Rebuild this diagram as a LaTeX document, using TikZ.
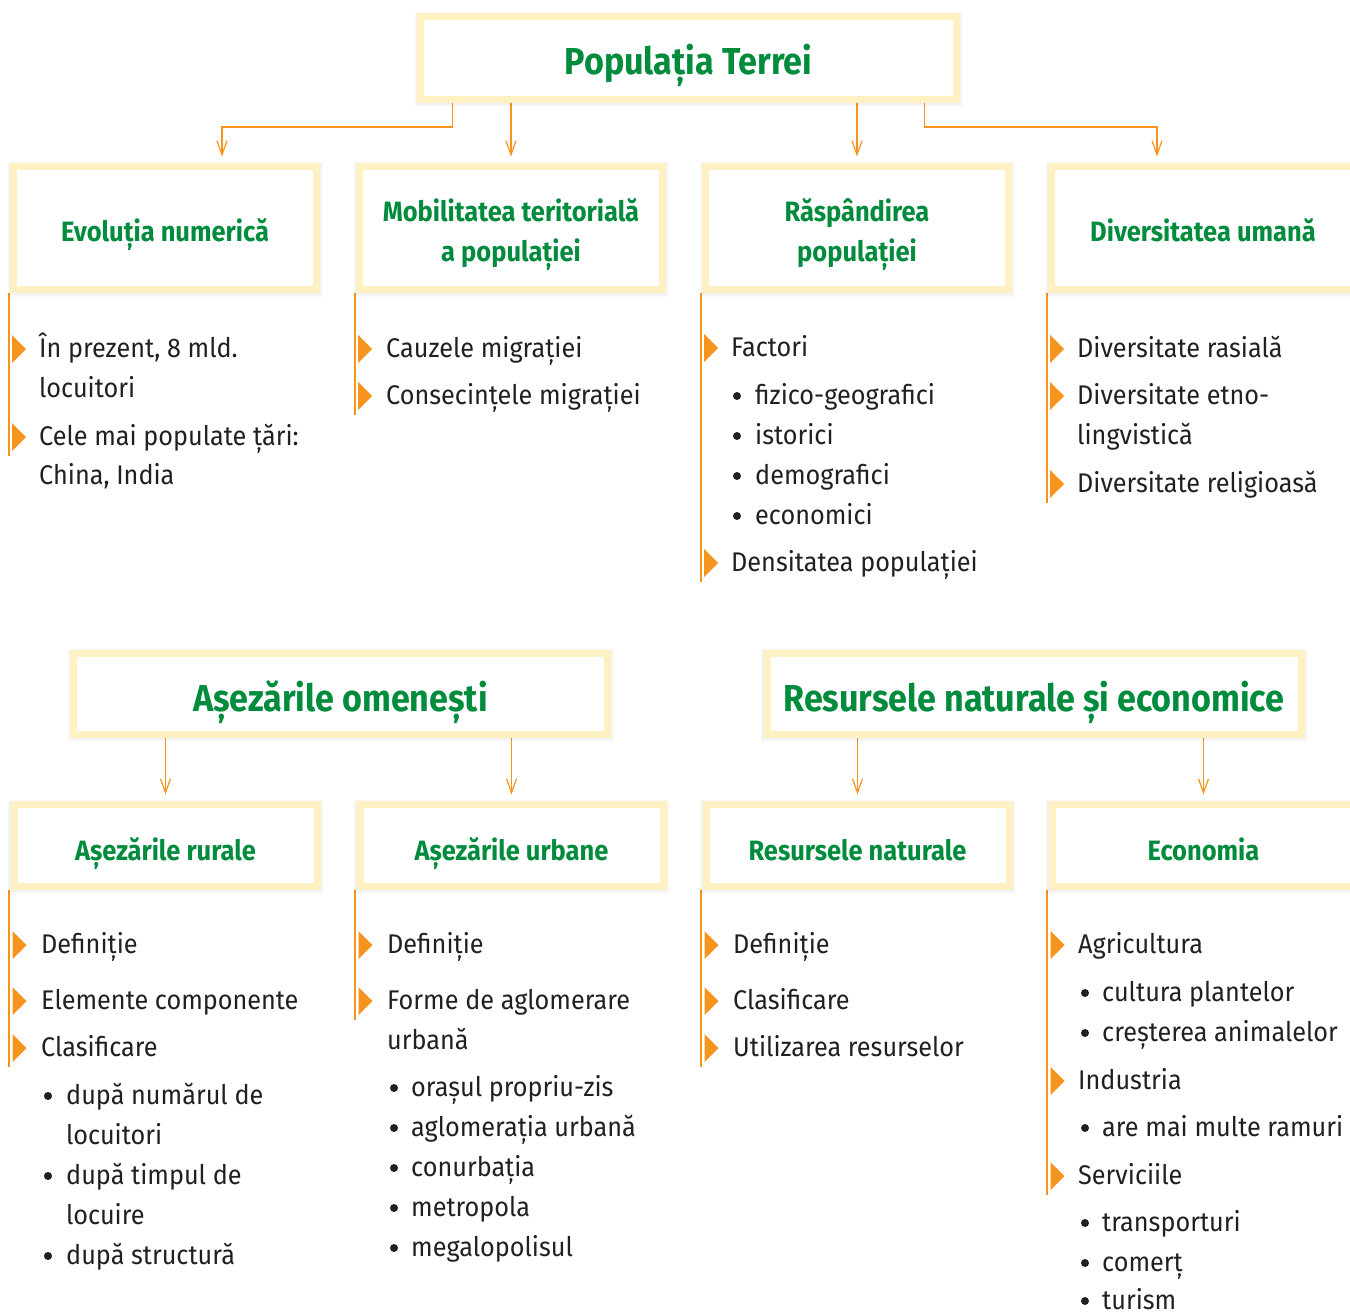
\documentclass[tikz,border=0pt]{standalone}
\usepackage{fontspec}
\setmainfont{Fira Sans}[FakeStretch=0.935]
\newfontfamily\hfont{Fira Sans}[FakeStretch=0.91]
\usetikzlibrary{arrows.meta,shadows}
\definecolor{grn}{HTML}{008C3C}
\definecolor{ylw}{HTML}{FFF1C2}
\definecolor{orng}{HTML}{F7941D}
\definecolor{txt}{HTML}{231F20}
\pgfdeclarelayer{bg}
\pgfsetlayers{bg,main}
\tikzset{
 boxnode/.style={draw=ylw, line width=7pt, fill=white, inner sep=0pt,
   minimum width=303pt, minimum height=123pt,
   general shadow={draw=black, line width=12pt, opacity=0.025, shadow yshift=-1.5pt},
   general shadow={draw=black, line width=9.5pt, opacity=0.03, shadow yshift=-1pt}},
 lowbox/.style={boxnode, minimum height=82pt},
 bigbox/.style={boxnode, minimum width=534pt, minimum height=81pt},
 ttl/.style={anchor=base, inner sep=0pt, text=grn, font=\hfont\bfseries\fontsize{28}{34}\selectfont},
 bigttl/.style={ttl, font=\hfont\bfseries\fontsize{37.5}{44}\selectfont},
 conn/.style={draw=orng, line width=1.2pt, -{Straight Barb[length=14pt,width=10pt]}},
 vline/.style={draw=orng, line width=2pt},
 itm/.style={anchor=base west, inner sep=0pt, text=txt, font=\fontsize{27}{32}\selectfont},
 dot/.style={circle, fill=txt, inner sep=0pt, minimum size=8pt},
}
\newcommand\tri[2]{\fill[orng] (#1,#2-14) -- (#1+14,#2) -- (#1,#2+14) -- cycle;}
\begin{document}
\begin{tikzpicture}[x=1pt,y=-1pt]
\useasboundingbox (0,0) rectangle (1350,1314);
\clip (0,0) rectangle (1350,1314);
% ---------- top part ----------
\node[boxnode, minimum width=536pt, minimum height=83pt] (top) at (688.5,58) {};
\node[bigttl] (t0) at (688.5,75) {Populația Terrei};
\node[boxnode] (b1) at (165,228) {};
\node[boxnode] (b2) at (511,228) {};
\node[boxnode] (b3) at (857,228) {};
\node[boxnode] (b4) at (1203,228) {};
\node[ttl] (t1) at (165,241) {Evoluția numerică};
\node[ttl] (t2a) at (511,221) {Mobilitatea teritorială};
\node[ttl] (t2b) at (511,261) {a populației};
\node[ttl] (t3a) at (857,221) {Răspândirea};
\node[ttl] (t3b) at (857,261) {populației};
\node[ttl] (t4) at (1203,241) {Diversitatea umană};
\begin{pgfonlayer}{bg}
\draw[conn] ([xshift=35.5pt]top.south west) -- ++(0,24) -| ([xshift=57pt,yshift=6.5pt]b1.north);
\draw[conn] (top.south -| b2.north) -- ([yshift=6.5pt]b2.north);
\draw[conn] (top.south -| b3.north) -- ([yshift=6.5pt]b3.north);
\draw[conn] ([xshift=-35.5pt]top.south east) -- ++(0,24) -| ([xshift=-46pt,yshift=6.5pt]b4.north);
\draw[vline] ([xshift=-1.5pt]b1.south west) -- ++(0,162.5);
\draw[vline] ([xshift=-1.5pt]b2.south west) -- ++(0,121.5);
\draw[vline] ([xshift=-1.5pt]b3.south west) -- ++(0,288.5);
\draw[vline] ([xshift=-1.5pt]b4.south west) -- ++(0,209.5);
\end{pgfonlayer}
% column 1
\tri{12}{349}\tri{12}{437}
\node[itm] (e1) at (39,357) {În prezent, 8 mld.};
\node[itm] (e2) at (39,397) {locuitori};
\node[itm] (e3) at (39,445) {Cele mai populate țări:};
\node[itm] (e4) at (39,484) {China, India};
% column 2
\tri{358}{349}\tri{358}{396}
\node[itm] (m1) at (386,357) {Cauzele migrației};
\node[itm] (m2) at (386,404) {Consecințele migrației};
% column 3
\tri{704}{348}\tri{704}{563}
\node[itm] (r1) at (731,356) {Factori};
\node[dot] (rd1) at (737,396) {};
\node[itm] (r2) at (755,404) {fizico-geografici};
\node[dot] (rd2) at (737,436) {};
\node[itm] (r3) at (755,444) {istorici};
\node[dot] (rd3) at (737,476) {};
\node[itm] (r4) at (755,484) {demografici};
\node[dot] (rd4) at (737,516) {};
\node[itm] (r5) at (755,524) {economici};
\node[itm] (r6) at (731,571) {Densitatea populației};
% column 4
\tri{1050}{349}\tri{1050}{396}\tri{1050}{484}
\node[itm] (u1) at (1077,357) {Diversitate rasială};
\node[itm] (u2) at (1077,404) {Diversitate etno-};
\node[itm] (u3) at (1077,444) {lingvistică};
\node[itm] (u4) at (1077,492) {Diversitate religioasă};
% ---------- bottom part ----------
\node[bigbox] (ao) at (340.5,694) {};
\node[bigbox] (rn) at (1034,694) {};
\node[bigttl] (t5) at (340.5,711) {Așezările omenești};
\node[bigttl] (t6) at (1034,711) {Resursele naturale și economice};
\node[lowbox] (b5) at (165.5,845.5) {};
\node[lowbox] (b6) at (511.5,845.5) {};
\node[lowbox] (b7) at (857.5,845.5) {};
\node[lowbox] (b8) at (1203.5,845.5) {};
\node[ttl] (t7) at (165.5,860) {Așezările rurale};
\node[ttl] (t8) at (511.5,860) {Așezările urbane};
\node[ttl] (t9) at (857.5,860) {Resursele naturale};
\node[ttl] (t10) at (1203.5,860) {Economia};
\begin{pgfonlayer}{bg}
\draw[conn] (ao.south -| b5.north) -- ([yshift=6.5pt]b5.north);
\draw[conn] (ao.south -| b6.north) -- ([yshift=6.5pt]b6.north);
\draw[conn] (rn.south -| b7.north) -- ([yshift=6.5pt]b7.north);
\draw[conn] (rn.south -| b8.north) -- ([yshift=6.5pt]b8.north);
\draw[vline] ([xshift=-1.5pt]b5.south west) -- ++(0,176.5);
\draw[vline] ([xshift=-1.5pt]b6.south west) -- ++(0,129.5);
\draw[vline] ([xshift=-1.5pt]b7.south west) -- ++(0,176.5);
\draw[vline] ([xshift=-1.5pt]b8.south west) -- ++(0,304.5);
\end{pgfonlayer}
% column 1
\tri{12.5}{945}\tri{12.5}{1001}\tri{12.5}{1048}
\node[itm] (a1) at (41,953) {Definiție};
\node[itm] (a2) at (41,1009) {Elemente componente};
\node[itm] (a3) at (41,1056) {Clasificare};
\node[dot] (ad1) at (48,1096) {};
\node[itm] (a4) at (66,1104) {după numărul de};
\node[itm] (a5) at (66,1144) {locuitori};
\node[dot] (ad2) at (48,1176) {};
\node[itm] (a6) at (66,1184) {după timpul de};
\node[itm] (a7) at (66,1224) {locuire};
\node[dot] (ad3) at (48,1256) {};
\node[itm] (a8) at (66,1264) {după structură};
% column 2
\tri{358.5}{945}\tri{358.5}{1001}
\node[itm] (o1) at (387,953) {Definiție};
\node[itm] (o2) at (387,1009) {Forme de aglomerare};
\node[itm] (o3) at (387,1049) {urbană};
\node[dot] (od1) at (394,1088) {};
\node[itm] (o4) at (411,1096) {orașul propriu-zis};
\node[dot] (od2) at (394,1128) {};
\node[itm] (o5) at (411,1136) {aglomerația urbană};
\node[dot] (od3) at (394,1168) {};
\node[itm] (o6) at (411,1176) {conurbația};
\node[dot] (od4) at (394,1208) {};
\node[itm] (o7) at (411,1216) {metropola};
\node[dot] (od5) at (394,1248) {};
\node[itm] (o8) at (411,1256) {megalopolisul};
% column 3
\tri{704.5}{945}\tri{704.5}{1001}\tri{704.5}{1048}
\node[itm] (n1) at (733,953) {Definiție};
\node[itm] (n2) at (733,1009) {Clasificare};
\node[itm] (n3) at (733,1056) {Utilizarea resurselor};
% column 4
\tri{1050.5}{945}\tri{1050.5}{1081}\tri{1050.5}{1176}
\node[itm] (c1) at (1078,953) {Agricultura};
\node[dot] (cd1) at (1085,993) {};
\node[itm] (c2) at (1102,1001) {cultura plantelor};
\node[dot] (cd2) at (1085,1033) {};
\node[itm] (c3) at (1102,1041) {creșterea animalelor};
\node[itm] (c4) at (1078,1089) {Industria};
\node[dot] (cd3) at (1085,1128) {};
\node[itm] (c5) at (1102,1136) {are mai multe ramuri};
\node[itm] (c6) at (1078,1184) {Serviciile};
\node[dot] (cd4) at (1085,1223) {};
\node[itm] (c7) at (1102,1231) {transporturi};
\node[dot] (cd5) at (1085,1263) {};
\node[itm] (c8) at (1102,1271) {comerț};
\node[dot] (cd6) at (1085,1301) {};
\node[itm] (c9) at (1102,1309) {turism};
\end{tikzpicture}
\end{document}
